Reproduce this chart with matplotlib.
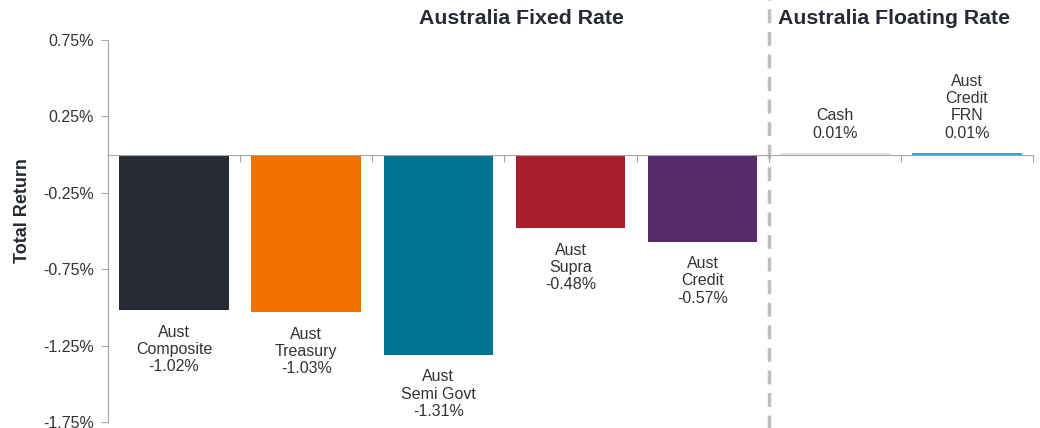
import matplotlib
matplotlib.use("Agg")
import matplotlib.pyplot as plt
from matplotlib.ticker import FixedLocator

plt.rcParams['font.family'] = ['Liberation Sans', 'DejaVu Sans']

categories = ["Aust\nComposite", "Aust\nTreasury", "Aust\nSemi Govt", "Aust\nSupra",
              "Aust\nCredit", "Cash", "Aust\nCredit\nFRN"]
values = [-1.02, -1.03, -1.31, -0.48, -0.57, 0.01, 0.01]
colors = ["#262a35", "#f07000", "#00758f", "#ab1f2d", "#542c6a", "#e3e3e3", "#1ab2e0"]
yticks = [0.75, 0.25, -0.25, -0.75, -1.25, -1.75]
group_titles = ["Australia Fixed Rate", "Australia Floating Rate"]

text_color = "#333333"
title_color = "#262a35"
axis_color = "#a6a6a6"

fig = plt.figure(figsize=(10.4, 4.28), dpi=100)
ax = fig.add_axes([108/1040, 6/428, (1033-108)/1040, (422-40)/428])

x = list(range(len(values)))
ax.bar(x, values, width=0.83, color=colors, zorder=3)
ax.set_xlim(-0.5, len(values) - 0.5)
ax.set_ylim(-1.75, 0.75)
ax.set_yticks(yticks)
ax.set_yticklabels([f"{v:.2f}%" for v in yticks], fontsize=11.5, color=text_color)
ax.tick_params(axis='y', length=5, color=axis_color, pad=5)

for s in ['top', 'right']:
    ax.spines[s].set_visible(False)
ax.spines['left'].set_color(axis_color)
ax.spines['bottom'].set_position(('data', 0))
ax.spines['bottom'].set_color(axis_color)
ax.spines['bottom'].set_zorder(4)
ax.xaxis.set_major_locator(FixedLocator([i - 0.5 for i in range(len(values) + 1)]))
ax.tick_params(axis='x', length=5, color=axis_color, labelbottom=False, direction='out')

ax.set_ylabel("Total Return", fontsize=13, fontweight='bold', color=title_color)
ax.yaxis.set_label_coords(-77/925, (422-211)/382)

for xi, v, c in zip(x, values, categories):
    label = f"{c}\n{v:.2f}%"
    if v < 0:
        ax.annotate(label, (xi, v), xytext=(0, -10.5), textcoords='offset points',
                    ha='center', va='top', fontsize=11.5, color=text_color, linespacing=1.18)
    else:
        ax.annotate(label, (xi, v), xytext=(0, 9), textcoords='offset points',
                    ha='center', va='bottom', fontsize=11.5, color=text_color, linespacing=1.18)

# divider between groups
ax.plot([4.5, 4.5], [-1.95, 1.05], ls=(0, (4, 2.5)), color="#bfbfbf", lw=2.5, clip_on=False, zorder=1)

fig.text(521/1040, 1 - 18/428, group_titles[0], ha='center', va='center',
         fontsize=15.3, fontweight='bold', color=title_color)
fig.text(894/1040, 1 - 18/428, group_titles[1], ha='center', va='center',
         fontsize=15.3, fontweight='bold', color=title_color)

fig.savefig("out.png", dpi=100)
